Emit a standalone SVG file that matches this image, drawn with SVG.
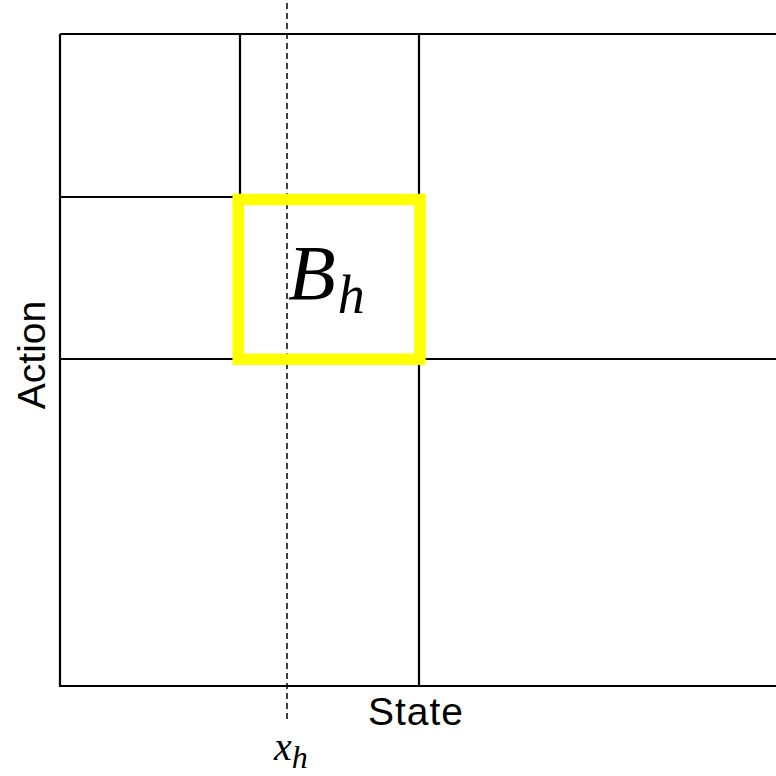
<svg xmlns="http://www.w3.org/2000/svg" width="776" height="776" viewBox="0 0 776 776">
<style>
.g{stroke:#000;stroke-width:2.2;fill:none}
.d{stroke:#000;stroke-width:1.5;stroke-dasharray:6 4;fill:none}
.lbl{font-family:"Liberation Sans",Arial,sans-serif;font-size:39px;fill:#000}
.m{font-family:"Liberation Serif","DejaVu Serif",serif;font-style:italic;fill:#000}
</style>
<rect width="776" height="776" fill="#fff"/>
<g id="grid">
<path class="g" d="M60,34 H780 M60,34 V686 H780 M60,197 H240 M60,359 H780 M240,34 V197 M419,34 V686"/>
</g>
<g id="connectors">
<line class="d" x1="287" y1="3" x2="287" y2="719"/>
</g>
<g id="box">
<rect x="238.2" y="199.5" width="181.8" height="159.7" fill="none" stroke="#ffff00" stroke-width="11.5"/>
<text class="m" x="288" y="299" font-size="78">B<tspan font-size="54" dy="14" dx="2">h</tspan></text>
</g>
<g id="labels">
<text class="lbl" x="368" y="725" textLength="95">State</text>
<text class="lbl" transform="translate(45,355) rotate(-90)" text-anchor="middle">Action</text>
<text class="m" x="274" y="760" font-size="40">x<tspan font-size="32" dy="8">h</tspan></text>
</g>
</svg>
